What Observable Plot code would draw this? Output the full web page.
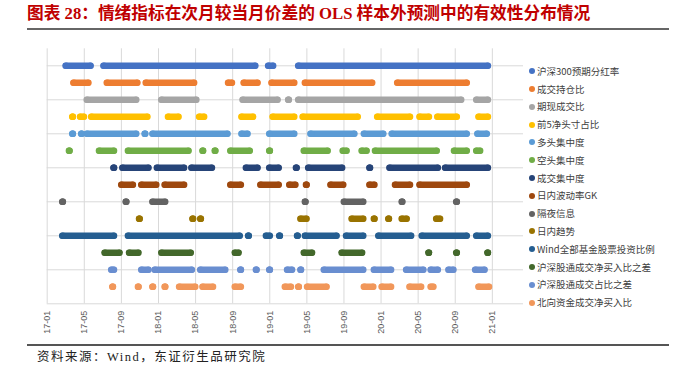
<!DOCTYPE html>
<html><head><meta charset="utf-8">
<script src="https://cdn.jsdelivr.net/npm/d3@7"></script>
<script src="https://cdn.jsdelivr.net/npm/@observablehq/plot@0.6"></script>
<style>
body{margin:0;background:#fff;width:700px;height:377px;overflow:hidden;position:relative;font-family:"Noto Sans CJK SC",sans-serif}
#title{position:absolute;left:27px;top:3px;font-weight:bold;font-size:16.7px;font-family:"Liberation Serif","Noto Sans CJK SC",serif;color:#c00000;white-space:nowrap;line-height:22px}
#rule1{position:absolute;left:27px;top:27.5px;width:642px;height:2px;background:#666}
#chart{position:absolute;left:0;top:0}
.lg{position:absolute;left:529px;height:14px;line-height:14px;font-size:9.5px;color:#404040;white-space:nowrap;font-family:"Noto Sans CJK SC",sans-serif}
.lg i{display:inline-block;width:6px;height:6px;border-radius:50%;margin-right:2px;vertical-align:middle;position:relative;top:-1px}
#rule2{position:absolute;left:27px;top:344px;width:642px;height:1.5px;background:#555}
#source{position:absolute;left:37px;top:348px;font-size:12.5px;letter-spacing:1.5px;font-family:"Liberation Serif","Noto Sans CJK SC",serif;color:#222;white-space:nowrap;line-height:18px}
</style></head>
<body>
<div id="title">图表 28：情绪指标在次月较当月价差的 OLS 样本外预测中的有效性分布情况</div>
<div id="rule1"></div>
<div id="chart"></div>
<div id="legend"></div>
<div id="rule2"></div>
<div id="source">资料来源：Wind，东证衍生品研究院</div>
<script>
const rowNames = ["沪深300预期分红率","成交持仓比","期现成交比","前5净头寸占比","多头集中度","空头集中度","成交集中度","日内波动率GK","隔夜信息","日内趋势","Wind全部基金股票投资比例","沪深股通成交净买入比之差","沪深股通成交占比之差","北向资金成交净买入比"];
const rowColors = ["#4472C4","#ED7D31","#A5A5A5","#FFC000","#5B9BD5","#70AD47","#264478","#9E480E","#636363","#997300","#255E91","#43682B","#698ED0","#F1975A"];
const tickLabels = ["17-01","17-05","17-09","18-01","18-05","18-09","19-01","19-05","19-09","20-01","20-05","20-09","21-01"];

// effective periods (decimal years) per indicator: [start, end]
const divYield = [[2017.17,2017.39],[2017.51,2018.87],[2018.99,2019.03],[2019.26,2020.96]];
const turnoverOI = [[2017.24,2017.37],[2017.54,2017.81],[2017.89,2018.32],[2018.63,2018.66],[2018.77,2018.89],[2019.02,2019.22],[2019.32,2019.92],[2020.15,2020.77]];
const futSpotVol = [[2017.36,2017.80],[2018.03,2018.34],[2018.76,2019.07],[2019.17,2019.17],[2019.26,2020.72],[2020.86,2020.96]];
const top5Net = [[2017.23,2017.23],[2017.30,2017.33],[2017.40,2017.90],[2018.09,2018.18],[2018.37,2018.41],[2018.75,2018.85],[2019.03,2019.22],[2019.30,2019.79],[2019.97,2020.26],[2020.35,2020.43],[2020.51,2020.68],[2020.88,2020.96]];
const longConc = [[2017.23,2017.23],[2017.31,2017.31],[2017.36,2017.80],[2017.88,2017.88],[2017.95,2018.62],[2018.75,2018.80],[2019.00,2019.22],[2019.37,2019.76],[2019.85,2020.02],[2020.10,2020.77],[2020.87,2020.95]];
const shortConc = [[2017.20,2017.20],[2017.47,2017.60],[2017.73,2018.27],[2018.40,2018.40],[2018.51,2018.51],[2018.65,2018.82],[2019.00,2019.00],[2019.31,2019.52],[2019.66,2019.69],[2019.83,2019.87],[2019.95,2020.50],[2020.66,2020.77],[2020.86,2020.89]];
const volConc = [[2017.60,2017.60],[2017.68,2017.91],[2017.99,2018.23],[2018.30,2018.48],[2018.79,2018.89],[2019.00,2019.08],[2019.24,2019.24],[2019.35,2019.65],[2019.90,2019.90],[2020.08,2020.51],[2020.58,2020.96]];
const gkVol = [[2017.67,2017.77],[2017.85,2017.98],[2018.06,2018.23],[2018.65,2018.74],[2018.92,2019.08],[2019.18,2019.23],[2019.33,2019.33],[2019.55,2019.66],[2019.90,2019.94],[2020.13,2020.26],[2020.35,2020.77]];
const overnight = [[2017.14,2017.14],[2017.71,2017.71],[2017.95,2018.06],[2019.32,2019.32],[2019.67,2019.84],[2020.19,2020.19],[2020.68,2020.68]];
const intradayTrend = [[2017.83,2017.83],[2018.31,2018.31],[2018.38,2018.38],[2019.28,2019.33],[2019.74,2019.84],[2019.94,2019.94],[2020.07,2020.07],[2020.19,2020.23],[2020.50,2020.53]];
const fundEquity = [[2017.14,2017.60],[2017.73,2018.73],[2018.81,2018.81],[2018.97,2019.00],[2019.09,2019.09],[2019.25,2019.25],[2019.32,2019.60],[2019.69,2019.84],[2019.98,2020.27],[2020.37,2020.77],[2020.86,2020.96]];
const connectNetBuy = [[2017.52,2017.65],[2017.74,2017.82],[2018.03,2018.29],[2018.69,2018.72],[2019.31,2019.38],[2019.65,2019.83],[2020.43,2020.43],[2020.68,2020.68],[2020.96,2020.96]];
const connectShare = [[2017.58,2017.60],[2017.85,2017.91],[2017.97,2018.30],[2018.38,2018.60],[2018.74,2018.74],[2018.88,2018.88],[2019.00,2019.00],[2019.16,2019.20],[2019.28,2019.28],[2019.49,2019.84],[2019.94,2020.09],[2020.23,2020.38],[2020.45,2020.51],[2020.61,2020.65],[2020.85,2020.93]];
const northNetBuy = [[2017.59,2017.59],[2017.82,2017.82],[2017.95,2017.95],[2018.06,2018.06],[2018.19,2018.33],[2018.40,2018.49],[2018.69,2018.74],[2019.14,2019.19],[2019.26,2019.26],[2019.34,2019.51],[2019.85,2019.93],[2020.01,2020.09],[2020.26,2020.36],[2020.45,2020.47],[2020.88,2020.97]];

const series = [divYield,turnoverOI,futSpotVol,top5Net,longConc,shortConc,volConc,gkVol,overnight,intradayTrend,fundEquity,connectNetBuy,connectShare,northNetBuy];

const tickValues = tickLabels.map(s => 2000 + +s.slice(0,2) + (+s.slice(3) - 1) / 12);
const xMax = 2021.28, yMax = 15;

const segMarks = series.flatMap((segs, i) => [
  Plot.ruleY(segs, {y: () => 14 - i, x1: d => d[0], x2: d => d[1], stroke: rowColors[i], strokeWidth: 6.6, strokeLinecap: "round"}),
  Plot.dot(segs.flat(), {x: d => d, y: () => 14 - i, r: 3.3, fill: rowColors[i], stroke: "none"})
]);

const chart = Plot.plot({
  width: 700, height: 377,
  marginLeft: 46.7, marginRight: 177, marginTop: 48.3, marginBottom: 73.7,
  x: {domain: [2017, xMax], ticks: tickValues, tickFormat: d => tickLabels[tickValues.indexOf(d)], tickRotate: -90, tickSize: 0, tickPadding: 7, label: null},
  y: {domain: [0, yMax], axis: null},
  style: {fontSize: "9px", fontFamily: "Liberation Sans, sans-serif", color: "#595959", background: "transparent"},
  marks: [
    Plot.ruleX(tickValues, {y1: 0, y2: yMax, stroke: "#d9d9d9", strokeWidth: 1}),
    Plot.ruleY(d3.range(0, yMax, 2), {x1: 2017, x2: xMax, stroke: "#d9d9d9", strokeWidth: 1}),
    ...segMarks
  ]
});
document.getElementById("chart").appendChild(chart);

const lg = document.getElementById("legend");
rowNames.forEach((name, i) => {
  const d = document.createElement("div");
  d.className = "lg";
  d.style.top = (70.7 + i * 17.8 - 7) + "px";
  d.innerHTML = `<i style="background:${rowColors[i]}"></i>${name}`;
  lg.appendChild(d);
});
</script>
</body></html>
